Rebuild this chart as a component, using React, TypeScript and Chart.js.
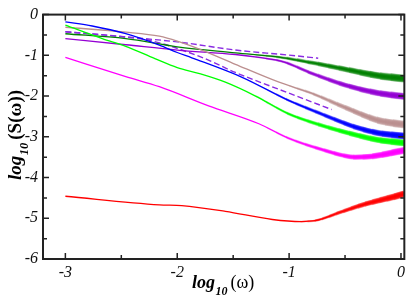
import { useEffect, useRef } from "react";
import { Chart, registerables } from "chart.js";

Chart.register(...registerables);

const X_TICKS = [-3, -2, -1, 0];
const Y_TICKS = [-6, -5, -4, -3, -2, -1, 0];

const BLUE: [number, number][] = [
  [-3, -0.18], [-2.76, -0.28], [-2.46, -0.47], [-2.16, -0.75], [-2.0, -0.93], [-1.87, -1.06],
  [-1.42, -1.54], [-1.01, -2.1], [-0.71, -2.44], [-0.41, -2.76], [-0.2, -2.91], [0.03, -2.98],
];
const LIME: [number, number][] = [
  [-3, -0.26], [-2.67, -0.59], [-2.46, -0.78], [-2.2, -1.08], [-2.0, -1.3], [-1.8, -1.45],
  [-1.57, -1.66], [-1.3, -2.0], [-1.01, -2.43], [-0.71, -2.72], [-0.41, -2.95], [-0.2, -3.08], [0.03, -3.15],
];
const ROSY: [number, number][] = [
  [-3, -0.31], [-2.46, -0.43], [-2.16, -0.53], [-2.0, -0.65], [-1.78, -0.87], [-1.48, -1.22],
  [-1.09, -1.66], [-0.8, -1.93], [-0.5, -2.28], [-0.2, -2.6], [0.03, -2.7],
];
const DARKGREEN: [number, number][] = [
  [-3, -0.47], [-2.46, -0.59], [-2.0, -0.79], [-1.48, -0.94], [-1.05, -1.06], [-0.8, -1.18],
  [-0.5, -1.34], [-0.2, -1.5], [0.03, -1.57],
];
const VIOLET: [number, number][] = [
  [-3, -0.59], [-2.46, -0.74], [-2.0, -0.87], [-1.48, -0.98], [-1.27, -1.05], [-1.05, -1.16],
  [-0.8, -1.44], [-0.5, -1.73], [-0.2, -1.93], [0.03, -2.01],
];
const DASH_UPPER: [number, number][] = [
  [-3, -0.42], [-2.46, -0.55], [-2.0, -0.67], [-1.48, -0.87], [-1.02, -0.99], [-0.74, -1.07],
];
const DASH_LOWER: [number, number][] = [
  [-3, -0.42], [-2.46, -0.55], [-2.25, -0.63], [-1.78, -1.05], [-1.48, -1.42], [-1.01, -1.92], [-0.62, -2.33],
];
const MAGENTA: [number, number][] = [
  [-3, -1.05], [-2.46, -1.52], [-2.16, -1.77], [-1.72, -2.24], [-1.27, -2.68], [-1.01, -3.03],
  [-0.71, -3.31], [-0.41, -3.5], [-0.26, -3.48], [0.03, -3.33],
];
const RED: [number, number][] = [
  [-3, -4.46], [-2.16, -4.67], [-1.96, -4.69], [-1.57, -4.83], [-1.15, -5.03], [-0.89, -5.08],
  [-0.77, -5.06], [-0.53, -4.84], [-0.32, -4.65], [-0.09, -4.49], [0.03, -4.4],
];

function rgba(hex: string, a: number) {
  const n = parseInt(hex.slice(1), 16);
  return `rgba(${(n >> 16) & 255},${(n >> 8) & 255},${n & 255},${a})`;
}

export default function App() {
  const ref = useRef<HTMLCanvasElement>(null);

  useEffect(() => {
    if (!ref.current) return;

    const mk = (
      data: [number, number][],
      color: string,
      noiseStart: number | null,
      noiseMax: number,
      dash: number[] = []
    ) => ({
      data: data.map(([x, y]) => ({ x, y })),
      borderColor: color,
      borderWidth: dash.length ? 1.4 : 1.3,
      pointRadius: 0,
      fill: false,
      cubicInterpolationMode: "monotone" as const,
      borderDash: dash,
      noiseStart,
      noiseMax,
    });

    const noisePlugin = {
      id: "noise",
      afterDatasetDraw(chart: any, args: any) {
        const ds = chart.data.datasets[args.index];
        if (ds.noiseStart === null || ds.noiseStart === undefined) return;
        const line = args.meta.dataset;
        const ctx = chart.ctx as CanvasRenderingContext2D;
        const xs = chart.scales.x;
        const { top, bottom, right } = chart.chartArea;
        const N = 14;
        ctx.save();
        ctx.lineJoin = "round";
        for (let k = 1; k <= N; k++) {
          const xv = ds.noiseStart + ((k - 1) / N) * (0 - ds.noiseStart);
          const px = xs.getPixelForValue(xv);
          ctx.save();
          ctx.beginPath();
          ctx.rect(px, top, right - px, bottom - top);
          ctx.clip();
          ctx.beginPath();
          line.path(ctx);
          ctx.lineWidth = 1.3 + (ds.noiseMax - 1.3) * (k / N);
          ctx.strokeStyle = rgba(ds.borderColor, 0.28);
          ctx.stroke();
          ctx.restore();
        }
        ctx.restore();
      },
    };

    const framePlugin = {
      id: "frame",
      afterDraw(chart: any) {
        const ctx = chart.ctx as CanvasRenderingContext2D;
        const { left, right, top, bottom } = chart.chartArea;
        const xs = chart.scales.x;
        const ys = chart.scales.y;
        ctx.save();
        ctx.strokeStyle = "#222";
        ctx.lineWidth = 2;
        ctx.strokeRect(left, top, right - left, bottom - top);
        ctx.lineWidth = 1.5;
        ctx.beginPath();
        for (let v = -3; v <= 0.001; v += 0.5) {
          const px = xs.getPixelForValue(v);
          const len = Math.abs(v - Math.round(v)) < 1e-6 ? 6 : 4;
          ctx.moveTo(px, bottom);
          ctx.lineTo(px, bottom - len);
          ctx.moveTo(px, top);
          ctx.lineTo(px, top + len);
        }
        for (let v = -6; v <= 0.001; v += 0.5) {
          const py = ys.getPixelForValue(v);
          const len = Math.abs(v - Math.round(v)) < 1e-6 ? 6 : 4;
          ctx.moveTo(left, py);
          ctx.lineTo(left + len, py);
          ctx.moveTo(right, py);
          ctx.lineTo(right - len, py);
        }
        ctx.stroke();

        ctx.fillStyle = "#000";
        ctx.textBaseline = "alphabetic";
        ctx.textAlign = "left";
        const drawTitle = (tail: string, tailBold: boolean, size: number, sub: number) => {
          ctx.font = `bold italic ${size}px "Liberation Serif"`;
          ctx.fillText("log", 0, 0);
          let x = ctx.measureText("log").width + 0.5;
          ctx.font = `bold italic ${sub}px "Liberation Serif"`;
          ctx.fillText("10", x, 7);
          x += ctx.measureText("10").width + 3;
          ctx.font = (tailBold ? "bold " : "") + `${size}px "Liberation Serif"`;
          ctx.fillText(tail, x, 0);
        };
        ctx.save();
        ctx.translate(192, 288);
        drawTitle("(\u03c9)", false, 18, 12);
        ctx.restore();
        ctx.save();
        ctx.translate(21, 180);
        ctx.rotate(-Math.PI / 2);
        drawTitle("(S(\u03c9))", true, 19, 12.5);
        ctx.restore();
        ctx.restore();
      },
    };

    const tickFont = { family: '"Liberation Serif"', size: 16, style: "italic" as const };

    const chart = new Chart(ref.current, {
      type: "line",
      data: {
        datasets: [
          mk(RED, "#ff0000", -0.9, 7),
          mk(MAGENTA, "#ff00ff", -1.2, 7),
          mk(LIME, "#00ff00", -1.3, 7),
          mk(BLUE, "#0000ff", -1.2, 7),
          mk(ROSY, "#bc8f8f", -1.0, 8),
          mk(VIOLET, "#9400d3", -1.3, 7),
          mk(DARKGREEN, "#008000", -1.3, 8),
          mk(DASH_LOWER, "#8a2be2", null, 1.3, [6, 3]),
          mk(DASH_UPPER, "#8a2be2", null, 1.3, [6, 3]),
        ] as any,
      },
      options: {
        responsive: false,
        animation: false,
        devicePixelRatio: 1,
        layout: { padding: { top: 5, right: 2.5, left: 0, bottom: 0 } },
        plugins: { legend: { display: false }, tooltip: { enabled: false } },
        scales: {
          x: {
            type: "linear",
            min: -3.2,
            max: 0.03,
            grid: { display: false, drawTicks: false },
            border: { display: false },
            afterBuildTicks: (s: any) => {
              s.ticks = X_TICKS.map((v) => ({ value: v }));
            },
            afterFit: (s: any) => {
              s.height = 42;
            },
            ticks: {
              font: tickFont,
              color: "#111",
              padding: 4,
              maxRotation: 0,
              callback: (v: any) => String(v),
            },
          },
          y: {
            type: "linear",
            min: -6,
            max: 0,
            grid: { display: false, drawTicks: false },
            border: { display: false },
            afterBuildTicks: (s: any) => {
              s.ticks = Y_TICKS.map((v) => ({ value: v }));
            },
            afterFit: (s: any) => {
              s.width = 43;
            },
            ticks: {
              font: tickFont,
              color: "#111",
              padding: 5,
              callback: (v: any) => String(v),
            },
          },
        },
      },
      plugins: [noisePlugin, framePlugin],
    });

    return () => chart.destroy();
  }, []);

  return (
    <div style={{ position: "fixed", left: 0, top: 0, width: 409, height: 301, background: "#fff" }}>
      <canvas ref={ref} width={409} height={301} style={{ width: 409, height: 301 }} />
    </div>
  );
}
